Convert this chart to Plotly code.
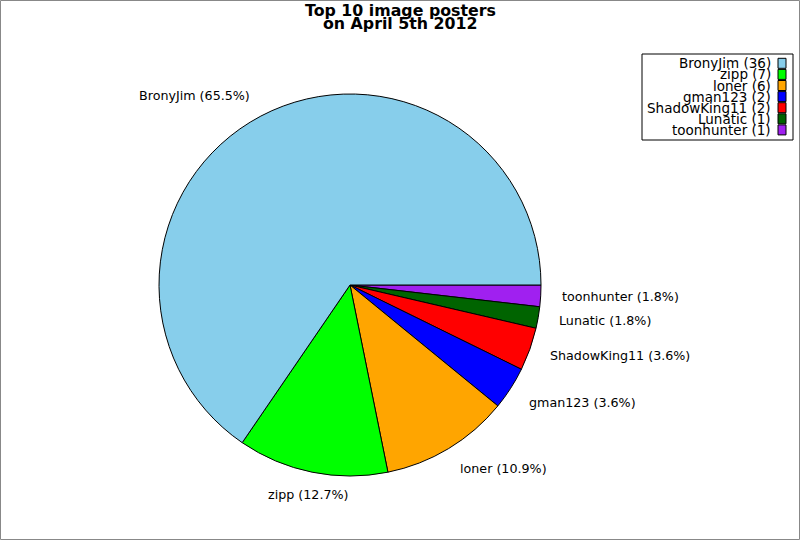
import numpy as np
import plotly.graph_objects as go

# data
names = ["BronyJim", "zipp", "loner", "gman123", "ShadowKing11", "Lunatic", "toonhunter"]
counts = [36, 7, 6, 2, 2, 1, 1]
colors = ["#87CEEB", "#00FF00", "#FFA500", "#0000FF", "#FF0000", "#006400", "#A020F0"]
title_lines = ["Top 10 image posters", "on April 5th 2012"]

W, H = 800, 540
cx, cy, r = 350, 285, 191  # pie centre / radius in pixels
FONT = "DejaVu Sans"


def px(x):
    return x / W


def py(y):
    return 1 - y / H


fig = go.Figure()
# wedges run counterclockwise from 3 o'clock; plotly does the same by
# going clockwise through the reversed list
fig.add_trace(go.Pie(
    labels=names[::-1], values=counts[::-1], sort=False,
    direction="clockwise", rotation=90,
    marker=dict(colors=colors[::-1], line=dict(color="black", width=1)),
    textinfo="none", showlegend=False,
    domain=dict(x=[px(cx - r), px(cx + r)], y=[py(cy + r), py(cy - r)]),
))

annotations = []
shapes = []

# slice labels at 1.1 radius, mid angle of each wedge
total = sum(counts)
start = 0.0
for name, c in zip(names, counts):
    frac = c / total
    mid = (start + frac / 2) * 2 * np.pi
    start += frac
    cs, sn = np.cos(mid), np.sin(mid)
    xa = "left" if cs > 0.3 else ("right" if cs < -0.3 else "center")
    ys = 4 * np.sign(sn) if abs(sn) > 0.5 else 0
    annotations.append(dict(
        x=px(cx + 1.1 * r * cs), y=py(cy - 1.1 * r * sn),
        xref="paper", yref="paper", showarrow=False,
        text=f"{name} ({frac * 100:.1f}%)", xanchor=xa, yanchor="middle",
        yshift=ys,
        font=dict(family=FONT, size=12.7, color="black"),
    ))

# title, two tight lines
for i, line in enumerate(title_lines):
    annotations.append(dict(
        x=0.5, y=py(10.5 + 13.5 * i), xref="paper", yref="paper",
        showarrow=False, text=f"<b>{line}</b>", xanchor="center", yanchor="middle",
        font=dict(family=FONT, size=15.8, color="black"),
    ))

# legend: right aligned text, swatch on the right
shapes.append(dict(type="rect", xref="paper", yref="paper",
                   x0=px(642), x1=px(793), y0=py(54), y1=py(140),
                   line=dict(color="black", width=1), fillcolor="white"))
for i, (name, c, col) in enumerate(zip(names, counts, colors)):
    yc = 63.3 + 11.1 * i
    annotations.append(dict(
        x=px(773), y=py(yc), xref="paper", yref="paper", showarrow=False,
        text=f"{name} ({c})", xanchor="right", yanchor="middle",
        font=dict(family=FONT, size=13.5, color="black"),
    ))
    shapes.append(dict(type="rect", xref="paper", yref="paper",
                       x0=px(778), x1=px(786), y0=py(yc + 5), y1=py(yc - 5),
                       line=dict(color="black", width=1), fillcolor=col))

# outer frame
shapes.append(dict(type="rect", xref="paper", yref="paper",
                   x0=px(0.5), x1=px(799.5), y0=py(539.5), y1=py(0.5),
                   line=dict(color="#888888", width=1)))

fig.update_layout(
    width=W, height=H,
    margin=dict(l=0, r=0, t=0, b=0),
    paper_bgcolor="white", plot_bgcolor="white",
    annotations=annotations, shapes=shapes,
    font=dict(family=FONT),
)

fig.write_html("out.html", config={"displayModeBar": False},
               post_script="document.body.style.margin='0';")
